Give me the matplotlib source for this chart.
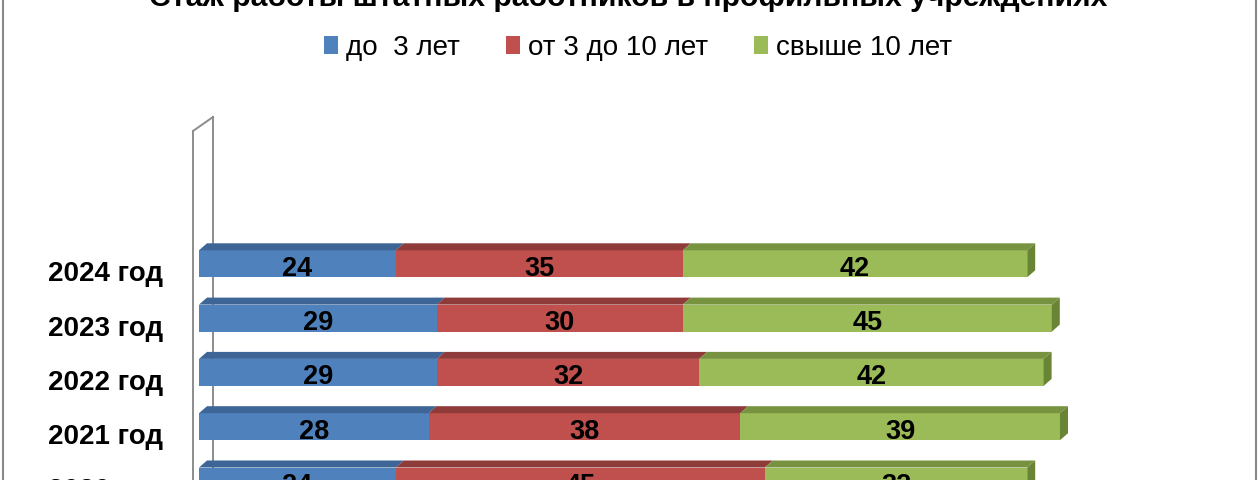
import matplotlib
matplotlib.use('Agg')
import matplotlib.pyplot as plt
from matplotlib.patches import Polygon, Patch
from matplotlib.lines import Line2D

# data
years = ['2020 год', '2021 год', '2022 год', '2023 год', '2024 год']
under_3 = [24, 28, 29, 29, 24]
from_3_to_10 = [45, 38, 32, 30, 35]
over_10 = [32, 39, 42, 45, 42]
series_names = ['до  3 лет', 'от 3 до 10 лет', 'свыше 10 лет']
title = 'Стаж работы штатных работников в профильных учреждениях'

front_colors = ['#4F81BD', '#C0504D', '#9BBB59']
top_colors = ['#3D6595', '#8E3B39', '#77933F']
side_color = '#6A8436'

plt.rcParams['font.family'] = ['Liberation Sans', 'DejaVu Sans']

W, H = 1260, 480
fig = plt.figure(figsize=(W / 100, H / 100), dpi=100)

px_per_unit = 8.2
pitch = 54.3
x0 = 199
ax = fig.add_axes([x0 / W, 0, (1256 - x0) / W, 1])
ax.set_xlim(0, (1256 - x0) / px_per_unit)
ax.set_ylim(1 / pitch, (H + 1) / pitch)
ax.axis('off')

h = 27 / pitch
dx = 8 / px_per_unit
dy = 7 / pitch

# back wall of the 3d chart
def py(p):
    return (H - p + 1) / pitch

wall_l = (193 - x0) / px_per_unit
wall_r = (213 - x0) / px_per_unit
for line in ([wall_l, wall_l], [py(131), py(H + 10)]), ([wall_r, wall_r], [py(117), py(H + 10)]), \
        ([wall_l, wall_r], [py(131), py(117)]):
    ax.add_line(Line2D(line[0], line[1], color='#8C8C8C', lw=1.4, clip_on=False, zorder=1))

series = [under_3, from_3_to_10, over_10]
ypos = list(range(len(years)))
lefts = [0] * len(years)
for k, vals in enumerate(series):
    ax.barh(ypos, vals, left=lefts, height=h, color=front_colors[k], edgecolor='none', zorder=3)
    for i, (l, v) in enumerate(zip(lefts, vals)):
        yt = ypos[i] + h / 2
        ax.add_patch(Polygon([(l, yt), (l + dx, yt + dy), (l + v + dx, yt + dy), (l + v, yt)],
                             closed=True, facecolor=top_colors[k], edgecolor='none', zorder=3))
        if k == len(series) - 1:
            r = l + v
            yb = ypos[i] - h / 2
            ax.add_patch(Polygon([(r, yb), (r, yt), (r + dx, yt + dy), (r + dx, yb + dy)],
                                 closed=True, facecolor=side_color, edgecolor='none', zorder=3))
        ax.text(l + v / 2, ypos[i] - 12 / pitch, str(v), ha='center', va='baseline',
                fontsize=19.5, fontweight='bold', zorder=5)
    lefts = [l + v for l, v in zip(lefts, vals)]

for i, lab in enumerate(years):
    ax.text((163 - x0) / px_per_unit, ypos[i] - 17.5 / pitch, lab, ha='right', va='baseline',
            fontsize=20, fontweight='bold', clip_on=False)

# legend
handles = [Patch(facecolor=c, edgecolor='none') for c in front_colors]
fig.legend(handles, series_names, loc='center', bbox_to_anchor=(638 / W, 1 - 48 / H), ncol=3,
           frameon=False, fontsize=20, handlelength=0.5, handleheight=0.6,
           handletextpad=0.3, columnspacing=1.65)

# title, cut at the top like the source image
t = fig.text(628 / W, 1 - 6 / H, title, ha='center', va='baseline', fontweight='bold', fontsize=20)
fig.canvas.draw()
w = t.get_window_extent().width
t.set_fontsize(20 * 955 / w)

# outer frame
for xf in (3, 1256):
    fig.add_artist(Line2D([xf / W, xf / W], [0, 1], transform=fig.transFigure, color='#898989', lw=1.5))

fig.savefig('out.png', dpi=100)
